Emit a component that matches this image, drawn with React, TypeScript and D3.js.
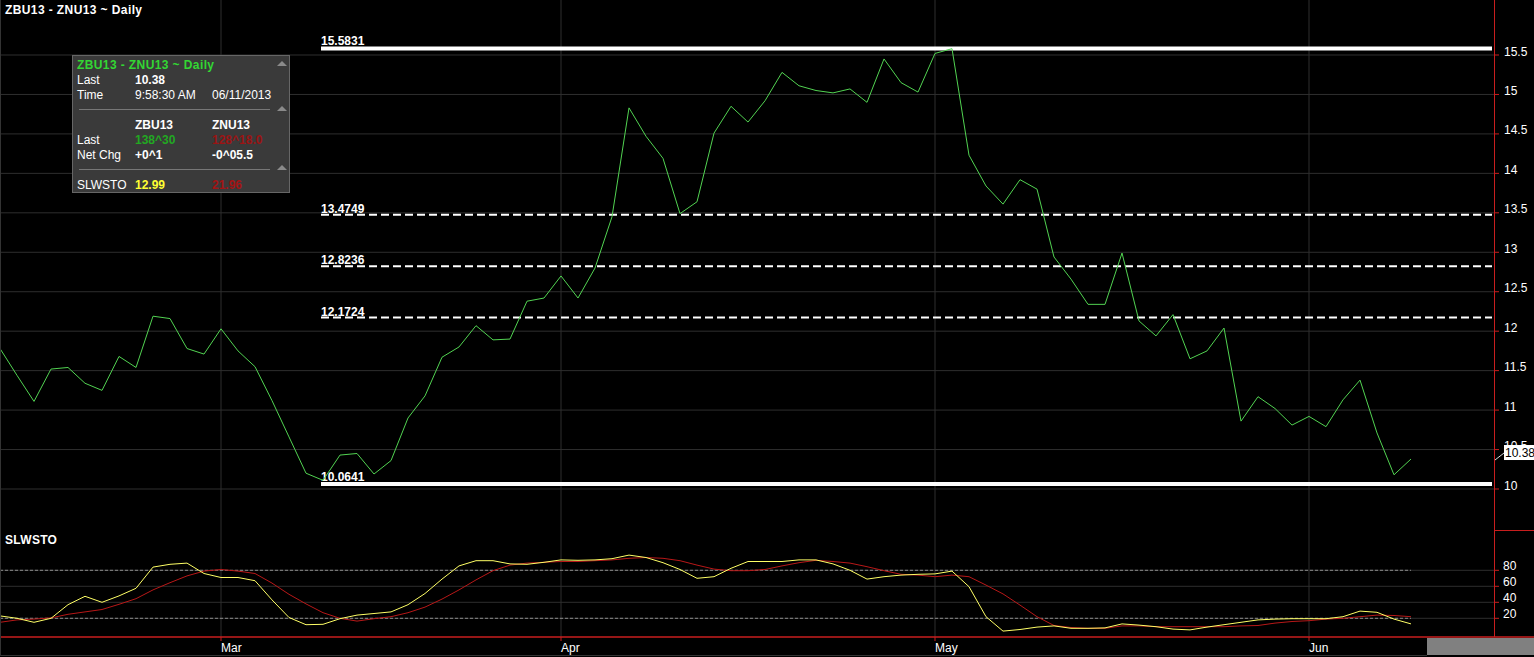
import * as d3 from 'd3';
import React from 'react';

// ZBU13 - ZNU13 spread, daily closes (Feb 12 .. Jun 11 2013)
const spread = [
  11.78, 11.44, 11.11, 11.52, 11.54, 11.34, 11.25, 11.68, 11.54, 12.19,
  12.16, 11.78, 11.71, 12.03, 11.75, 11.55, 11.12, 10.66, 10.2, 10.11,
  10.43, 10.45, 10.19, 10.36, 10.9, 11.18, 11.67, 11.8, 12.07, 11.89,
  11.9, 12.38, 12.42, 12.7, 12.42, 12.8, 13.45, 14.83, 14.47, 14.19,
  13.49, 13.64, 14.51, 14.85, 14.65, 14.92, 15.28, 15.11, 15.05, 15.02,
  15.07, 14.9, 15.45, 15.15, 15.03, 15.52, 15.58, 14.23, 13.84, 13.61,
  13.92, 13.8, 12.94, 12.66, 12.34, 12.34, 12.99, 12.13, 11.94, 12.21,
  11.65, 11.75, 12.04, 10.86, 11.17, 11.02, 10.81, 10.92, 10.79, 11.13,
  11.38, 10.71, 10.18, 10.38,
];

// slow stochastic %K (yellow) and %D (red)
const stoK = [
  23, 20, 15, 20, 37, 47.5, 40, 48, 57.5, 84,
  87.5, 89, 76, 71, 71, 67, 43, 21, 12, 12.5,
  19.5, 24, 26, 28, 37, 51, 69, 85.5, 92, 92,
  88, 87.5, 90, 93, 92.5, 93, 94.5, 99, 96, 89.5,
  81, 70, 72, 82.5, 91, 91, 91, 93, 93, 88,
  80, 69, 72, 74, 75, 75.5, 79, 59.5, 22, 4,
  6, 9, 10.5, 7.5, 7.5, 8, 13, 11.5, 9.5, 6.5,
  5.5, 9, 12, 15, 18, 19, 19.5, 19.5, 19.5, 22,
  29, 27.5, 19, 13,
];
const stoD = [
  15, 18, 19, 20.5, 25, 28, 31, 37.5, 44.5, 55.5,
  64.5, 73, 79, 81, 79, 76, 64, 50, 38, 27,
  20, 16.5, 19.5, 22, 27, 34, 44, 55.5, 68, 79.5,
  86.5, 89, 90, 91, 91, 92, 93, 95, 96, 95,
  92, 86.5, 81.5, 79.5, 79.5, 81, 85.5, 89.5, 92.5, 91,
  89, 84.5, 79.5, 75, 74, 72, 74, 72, 61.5, 50.5,
  36.5, 22, 11, 8.5, 7.5, 7.5, 10.5, 10.5, 9.5, 9.5,
  9.5, 9.5, 9.5, 10.5, 11, 14, 16, 17, 19, 20,
  22, 24, 23.5, 22,
];

const monthLabels = ['Mar', 'Apr', 'May', 'Jun'];
const monthIdx = [13, 33, 55, 77];

const priceTicks = [10, 10.5, 11, 11.5, 12, 12.5, 13, 13.5, 14, 14.5, 15, 15.5];
const stoTicks = [20, 40, 60, 80];
const stoDashed = [20, 80];

// fibonacci retracement from the Mar low to the May high
const fibLevels = [15.5831, 13.4749, 12.8236, 12.1724, 10.0641];
const fibSolid = [true, false, false, false, true];
const fibStartIdx = 19;

const W = 1534, H = 657;
const AX = 1494;
const FONT = '"Liberation Sans", Arial, sans-serif';

export default function App() {
  const x = d3.scaleLinear().domain([0, AX / 17]).range([0, AX]);
  const y = d3.scaleLinear().domain([10, 15.5]).range([489, 55]);
  const ys = d3.scaleLinear().domain([0, 80]).range([634.3, 570.3]);

  const priceLine = d3.line<number>().x((_, i) => x(i)).y(d => y(d));
  const stoLine = d3.line<number>().x((_, i) => x(i)).y(d => ys(d));
  const lastX = x(spread.length - 1);
  const fibX = x(fibStartIdx) - 2;
  const last = spread[spread.length - 1];

  return (
    <div style={{ position: 'fixed', left: 0, top: 0 }}>
      <svg width={W} height={H} style={{ display: 'block', background: '#000' }} fontFamily={FONT}>
        <rect x={0} y={0} width={W} height={H} fill="#000" />

        {/* grid */}
        {priceTicks.map(t => (
          <line key={'g' + t} x1={0} x2={AX} y1={y(t)} y2={y(t)} stroke="#2e2e2e" />
        ))}
        {stoTicks.map(t => (
          <line key={'gs' + t} x1={0} x2={AX} y1={ys(t)} y2={ys(t)} stroke="#2e2e2e" />
        ))}
        {monthIdx.map(m => (
          <line key={'v' + m} x1={x(m)} x2={x(m)} y1={0} y2={637} stroke="#2e2e2e" />
        ))}
        {stoDashed.map(t => (
          <line key={'sd' + t} x1={0} x2={lastX} y1={ys(t)} y2={ys(t)} stroke="#8a8a8a" strokeDasharray="3 2" />
        ))}

        {/* fib levels */}
        {fibLevels.map((f, i) => (
          <g key={'f' + f}>
            <line x1={fibX} x2={AX - 2} y1={y(f)} y2={y(f)} stroke="#fff"
              strokeWidth={fibSolid[i] ? 4 : 2} strokeDasharray={fibSolid[i] ? undefined : '8 4'} />
            <text x={fibX} y={y(f) - (fibSolid[i] ? 3 : 2)} fill="#fff" fontSize={12} fontWeight="bold">{f.toFixed(4)}</text>
          </g>
        ))}

        {/* series */}
        <path d={priceLine(spread) || ''} fill="none" stroke="#52d352" strokeWidth={1} />
        <path d={stoLine(stoD) || ''} fill="none" stroke="#b81818" strokeWidth={1} />
        <path d={stoLine(stoK) || ''} fill="none" stroke="#ffff66" strokeWidth={1} />

        {/* axes */}
        <line x1={AX + 0.5} x2={AX + 0.5} y1={0} y2={637} stroke="#c81e1e" />
        <line x1={AX} x2={W} y1={530.5} y2={530.5} stroke="#c81e1e" />
        <line x1={0} x2={W} y1={637} y2={637} stroke="#c81e1e" strokeWidth={1.5} />
        {priceTicks.map(t => (
          <g key={'t' + t}>
            <line x1={AX} x2={AX + 5} y1={y(t)} y2={y(t)} stroke="#c81e1e" />
            <text x={AX + 10} y={y(t) + 0.5} fill="#fff" fontSize={12}>{t}</text>
          </g>
        ))}
        {stoTicks.map(t => (
          <g key={'ts' + t}>
            <line x1={AX} x2={AX + 5} y1={ys(t)} y2={ys(t)} stroke="#c81e1e" />
            <text x={AX + 9} y={ys(t) - 0.5} fill="#fff" fontSize={12}>{t}</text>
          </g>
        ))}
        {monthIdx.map((m, i) => (
          <g key={'m' + m}>
            <line x1={x(m)} x2={x(m)} y1={637} y2={641} stroke="#c81e1e" />
            <text x={x(m)} y={652} fill="#fff" fontSize={12}>{monthLabels[i]}</text>
          </g>
        ))}

        {/* last price marker */}
        <line x1={AX + 1} x2={AX + 10} y1={y(last) + 1} y2={y(last) - 6} stroke="#ddd" />
        <rect x={AX + 10} y={y(last) - 14} width={W - AX - 10} height={15} fill="#fff" />
        <text x={AX + 11} y={y(last) - 2} fill="#000" fontSize={12}>{last.toFixed(2)}</text>

        <rect x={1427} y={638} width={W - 1427} height={17} fill="#808080" />
        <line x1={0} x2={1427} y1={655.5} y2={655.5} stroke="#333" />
        <line x1={0.5} x2={0.5} y1={0} y2={656} stroke="#333" />

        {/* titles */}
        <text x={5} y={14} fill="#fff" fontSize={12} fontWeight="bold" letterSpacing={0.4}>ZBU13 - ZNU13 ~ Daily</text>
        <text x={5} y={544} fill="#fff" fontSize={12} fontWeight="bold" letterSpacing={0.3}>SLWSTO</text>

        {/* info box */}
        <g fontSize={12}>
          <rect x={72.5} y={55.5} width={217} height={137} fill="#3a3a3a" stroke="#666" />
          <text x={77} y={69} fill="#33d633" fontWeight="bold" letterSpacing={0.4}>ZBU13 - ZNU13 ~ Daily</text>
          <text x={77} y={84} fill="#fff">Last</text>
          <text x={135} y={84} fill="#fff" fontWeight="bold">10.38</text>
          <text x={77} y={99} fill="#fff">Time</text>
          <text x={135} y={99} fill="#fff">9:58:30 AM</text>
          <text x={212} y={99} fill="#fff">06/11/2013</text>
          <line x1={79} x2={270} y1={109.5} y2={109.5} stroke="#777" />
          <text x={135} y={129} fill="#fff" fontWeight="bold">ZBU13</text>
          <text x={212} y={129} fill="#fff" fontWeight="bold">ZNU13</text>
          <text x={77} y={144} fill="#fff">Last</text>
          <text x={135} y={144} fill="#22a822" fontWeight="bold">138^30</text>
          <text x={212} y={144} fill="#9a1414" fontWeight="bold">128^18.0</text>
          <text x={77} y={159} fill="#fff">Net Chg</text>
          <text x={135} y={159} fill="#fff" fontWeight="bold">+0^1</text>
          <text x={212} y={159} fill="#fff" fontWeight="bold">-0^05.5</text>
          <line x1={79} x2={270} y1={169.5} y2={169.5} stroke="#777" />
          <text x={77} y={189} fill="#fff">SLWSTO</text>
          <text x={135} y={189} fill="#ffff33" fontWeight="bold">12.99</text>
          <text x={212} y={189} fill="#a31414" fontWeight="bold">21.96</text>
          {[66, 111, 170].map(ty => (
            <path key={'tri' + ty} d={`M${277},${ty}L${287},${ty}L${282},${ty - 5}Z`} fill="#8a8a8a" />
          ))}
        </g>
      </svg>
    </div>
  );
}
